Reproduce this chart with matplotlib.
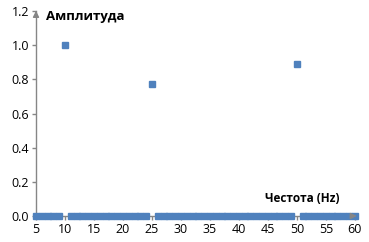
import matplotlib.pyplot as plt
import numpy as np

plt.rcParams['font.family'] = ['Open Sans', 'DejaVu Sans']

freq = list(range(5, 61))
peak_freq = [10, 25, 50]
peak_amp = [1.0, 0.77, 0.89]
amp = [peak_amp[peak_freq.index(f)] if f in peak_freq else 0.0 for f in freq]

xticks = list(range(5, 61, 5))
yticks = [0.0, 0.2, 0.4, 0.6, 0.8, 1.0, 1.2]

fig = plt.figure(figsize=(3.69, 2.42), dpi=100)
ax = fig.add_axes([0.0976, 0.1074, 0.864, 0.847])

ax.plot(freq, amp, linestyle='none', marker='s', markersize=4.6,
        color='#4F81BD', clip_on=False, zorder=3)

ax.set_xlim(5, 60)
ax.set_ylim(0, 1.2)
ax.set_xticks(xticks)
ax.set_yticks(yticks)
ax.set_yticklabels([f'{v:.1f}' for v in yticks])

for s in ['top', 'right']:
    ax.spines[s].set_visible(False)
for s in ['left', 'bottom']:
    ax.spines[s].set_color('#868686')
    ax.spines[s].set_linewidth(1.0)

ax.tick_params(axis='both', colors='#868686', labelcolor='black',
               labelsize=9, length=3, width=1, direction='out', pad=2)

# arrow heads on the axes
ax.annotate('', xy=(0, 1.015), xycoords='axes fraction', xytext=(0, 0.97),
            arrowprops=dict(arrowstyle='-|>', color='#868686', lw=1,
                            mutation_scale=9), annotation_clip=False)
ax.annotate('', xy=(1.015, 0), xycoords='axes fraction', xytext=(0.98, 0),
            arrowprops=dict(arrowstyle='-|>', color='#868686', lw=1,
                            mutation_scale=9), annotation_clip=False)

ax.text(0.031, 0.975, 'Амплитуда', transform=ax.transAxes, fontsize=9.5,
        fontweight='bold', ha='left', va='center')
ax.text(0.953, 0.083, 'Честота (Hz)', transform=ax.transAxes, fontsize=8.5,
        fontweight='bold', ha='right', va='center')

fig.savefig('out.png', dpi=100)
